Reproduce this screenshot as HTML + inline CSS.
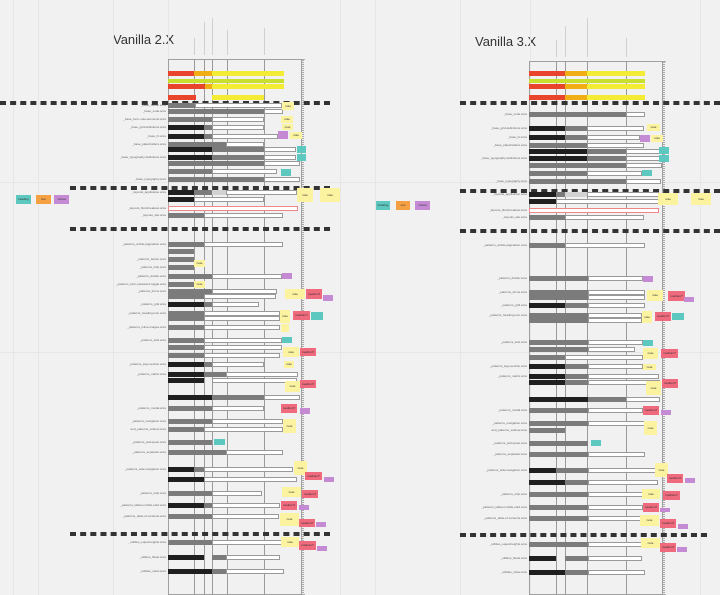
<!DOCTYPE html>
<html><head><meta charset="utf-8">
<style>
html,body{margin:0;padding:0;background:#f1f1f1;}
#wrap{position:relative;width:720px;height:595px;overflow:hidden;background:#f1f1f1;font-family:"Liberation Sans",sans-serif;}
.a{position:absolute;box-sizing:border-box;}
.t{position:absolute;font-size:3px;color:#666;white-space:nowrap;line-height:4px;}
.title{position:absolute;font-size:13px;color:#333;font-family:"Liberation Sans",sans-serif;}
</style></head>
<body>
<div id="wrap">
<div class="title" style="left:113px;top:32px">Vanilla 2.X</div>
<div class="title" style="left:475px;top:34px">Vanilla 3.X</div>
</div>
<script>
const W=document.getElementById('wrap');
const COL={k:'#1f1f1f',g:'#7b7b7b',l:'#d2d2d2',w:'#ffffff',p:'#ffffff',r:'#e8452c',o:'#f0ad14',y:'#f4ec34',n:'#c9df2e'};
const ST={S:'#fbf3a0',R:'#ee6a7c',P:'#c48ad4',T:'#5cc8c0',O:'#f5a043'};
function box(x,y,w,h,bg,name,border){
  const d=document.createElement('div');d.className='a';
  d.style.cssText=`left:${x}px;top:${y}px;width:${w}px;height:${h}px;background:${bg};`+(border?`border:${border};`:'');
  
  
  W.appendChild(d);return d;
}
function txt(x,y,s,name,align){
  const d=document.createElement('div');d.className='t';d.textContent=s;
  if(align==='r'){d.style.right=(720-x)+'px';}else{d.style.left=x+'px';}
  d.style.top=y+'px';
  
  
  W.appendChild(d);
}
const gridX=[13,38,113,168,340,375,460,530,700];
gridX.forEach(x=>box(x,0,1,595,'#e6e6e6','grid-line'));
[182,352,620].forEach(y=>box(0,y,720,1,'#e6e6e6','grid-line'));

const panels=[
 {frame:[168,59,302],cols:[194,204,212,227,264],heads:[38,22,18,30,28],dashes:[[0,101,330],[70,186,330],[70,227,330],[70,532,330]]},
 {frame:[529,61,663],cols:[556,565,587,626],heads:[40,26,18,38],dashes:[[460,101,720],[460,189,720],[460,229,720],[460,533,707]]}
];
panels.forEach((p,pi)=>{
  const [x1,y1,x2]=p.frame;
  box(x1,y1,x2-x1,595-y1,'transparent','swimlane-frame','1px solid #a0a0a0');
  box(x2,y1,1,595-y1,'transparent','swimlane-right-edge','1px dotted #aaa');
  p.cols.forEach((c,i)=>{box(c,y1,1,595-y1,'#9a9a9a','column-line');
    box(c,p.heads[i],1,y1-4-p.heads[i],'#d0d0d0','column-header-label');});
  p.dashes.forEach(d=>box(d[0],d[1],d[2]-d[0],0,'transparent','section-divider','2px dashed #333'));
});

const rowsL=[
 [71,[[168,194,'r'],[194,212,'o'],[212,284,'y']],'',5],
 [79,[[168,284,'n']],'',4],
 [84,[[168,205,'r'],[205,212,'o'],[212,284,'y']],'',5],
 [95,[[168,196,'r'],[212,264,'y']],'',5],
 [103,[[168,195,'g'],[195,282,'w']],'_base_button.scss'],
 [109,[[168,264,'g'],[264,283,'w']],'_base_code.scss'],
 [117,[[168,212,'g'],[212,264,'w']],'_base_form-note-elements.scss'],
 [125,[[168,204,'k'],[204,212,'g'],[212,264,'w']],'_base_grid-definitions.scss'],
 [134,[[168,204,'k'],[204,212,'g'],[212,278,'w']],'_base_hr.scss'],
 [142,[[168,226,'g'],[226,264,'w']],'_base_placeholders.scss'],
 [147,[[168,212,'k'],[212,264,'g'],[264,296,'w']],''],
 [155,[[168,212,'k'],[212,264,'g'],[264,296,'w']],'_base_typography-definitions.scss'],
 [161,[[168,264,'g'],[264,300,'w']],''],
 [169,[[168,212,'g'],[212,277,'w']],''],
 [177,[[168,264,'g'],[264,300,'w']],'_base_typography.scss'],
 [190,[[168,194,'k'],[194,212,'g'],[212,226,'l'],[226,297,'w']],'_layouts_application.scss'],
 [197,[[168,194,'k'],[194,264,'w']],''],
 [206,[[168,298,'p']],'_layouts_fluid-breakout.scss'],
 [213,[[168,204,'g'],[204,283,'w']],'_layouts_site.scss'],
 [242,[[168,204,'g'],[204,283,'w']],'_patterns_article-pagination.scss'],
 [249,[[168,194,'g']],''],
 [257,[[168,194,'g']],'_patterns_button.scss'],
 [265,[[168,194,'g']],'_patterns_chip.scss'],
 [274,[[168,212,'g'],[212,282,'w']],'_patterns_divider.scss'],
 [282,[[168,194,'g']],'_patterns_form-password-toggle.scss'],
 [289,[[168,212,'g'],[212,277,'w']],'_patterns_forms.scss'],
 [294,[[168,204,'g'],[204,276,'w']],''],
 [302,[[168,204,'k'],[204,212,'g'],[212,259,'w']],'_patterns_grid.scss'],
 [311,[[168,204,'g'],[204,280,'w']],'_patterns_heading-icon.scss'],
 [316,[[168,204,'g'],[204,280,'w']],''],
 [325,[[168,204,'g'],[204,280,'w']],'_patterns_inline-images.scss'],
 [338,[[168,204,'g'],[204,282,'w']],'_patterns_lists.scss'],
 [345,[[168,204,'g'],[204,282,'w']],''],
 [353,[[168,204,'g'],[204,280,'w']],''],
 [362,[[168,204,'k'],[204,212,'g'],[212,264,'w']],'_patterns_logo-section.scss'],
 [372,[[168,204,'k'],[204,226,'g'],[226,298,'w']],'_patterns_matrix.scss'],
 [378,[[168,204,'k'],[212,297,'w']],''],
 [395,[[168,212,'k'],[212,264,'g'],[264,300,'w']],''],
 [406,[[168,212,'g'],[212,264,'w']],'_patterns_modal.scss'],
 [419,[[168,212,'g'],[212,283,'w']],'_patterns_navigation.scss'],
 [427,[[168,204,'g'],[204,283,'w']],'and_patterns_subnav.scss'],
 [440,[[168,212,'g']],'_patterns_pull-quote.scss'],
 [450,[[168,226,'g'],[226,283,'w']],'_patterns_separator.scss'],
 [467,[[168,194,'k'],[194,204,'g'],[204,293,'w']],'_patterns_side-navigation.scss'],
 [477,[[168,204,'k'],[204,297,'w']],''],
 [491,[[168,212,'g'],[212,262,'w']],'_patterns_strip.scss'],
 [503,[[168,204,'k'],[204,212,'g'],[212,280,'w']],'_patterns_tables-mobile-card.scss'],
 [514,[[168,212,'g'],[212,279,'w']],'_patterns_table-of-contents.scss'],
 [540,[[168,212,'g'],[212,282,'w']],'_utilities_equal-heights.scss'],
 [555,[[168,204,'k'],[212,226,'g'],[226,280,'w']],'_utilities_floats.scss'],
 [569,[[168,212,'k'],[212,226,'g'],[226,284,'w']],'_utilities_show.scss']
];
const rowsR=[
 [71,[[529,565,'r'],[565,587,'o'],[587,645,'y']],'',5],
 [79,[[529,645,'n']],'',4],
 [84,[[529,565,'r'],[565,587,'o'],[587,645,'y']],'',5],
 [95,[[529,565,'r'],[565,587,'o'],[587,645,'y']],'',5],
 [112,[[529,626,'g'],[626,645,'w']],'_base_code.scss'],
 [126,[[529,565,'k'],[565,587,'g'],[587,644,'w']],'_base_grid-definitions.scss'],
 [135,[[529,565,'k'],[565,587,'g'],[587,640,'w']],'_base_hr.scss'],
 [143,[[529,587,'g'],[587,644,'w']],'_base_placeholders.scss'],
 [149,[[529,587,'k'],[587,626,'g'],[626,660,'w']],''],
 [156,[[529,587,'k'],[587,626,'g'],[626,660,'w']],'_base_typography-definitions.scss'],
 [163,[[529,626,'g'],[626,662,'w']],''],
 [171,[[529,587,'g'],[587,642,'w']],''],
 [179,[[529,626,'g'],[626,661,'w']],'_base_typography.scss'],
 [192,[[529,556,'k'],[556,565,'g'],[565,587,'l'],[587,659,'w']],'_layouts_application.scss'],
 [199,[[529,556,'k'],[556,659,'w']],''],
 [208,[[529,659,'p']],'_layouts_fluid-breakout.scss'],
 [215,[[529,565,'g'],[565,644,'w']],'_layouts_site.scss'],
 [243,[[529,565,'g'],[565,645,'w']],'_patterns_article-pagination.scss'],
 [276,[[529,588,'g'],[588,643,'w']],'_patterns_divider.scss'],
 [290,[[529,588,'g'],[588,645,'w']],'_patterns_forms.scss'],
 [295,[[529,588,'g'],[588,645,'w']],''],
 [303,[[529,565,'k'],[565,588,'g'],[588,645,'w']],'_patterns_grid.scss'],
 [313,[[529,588,'g'],[588,642,'w']],'_patterns_heading-icon.scss'],
 [318,[[529,588,'g'],[588,642,'w']],''],
 [340,[[529,588,'g'],[588,643,'w']],'_patterns_lists.scss'],
 [347,[[529,588,'g'],[588,635,'w']],''],
 [355,[[529,565,'g'],[565,643,'w']],''],
 [364,[[529,565,'k'],[565,588,'g'],[588,643,'w']],'_patterns_logo-section.scss'],
 [374,[[529,565,'k'],[565,588,'g'],[588,659,'w']],'_patterns_matrix.scss'],
 [380,[[529,565,'k'],[565,588,'g'],[588,660,'w']],''],
 [397,[[529,588,'k'],[588,626,'g'],[626,660,'w']],''],
 [408,[[529,588,'g'],[588,643,'w']],'_patterns_modal.scss'],
 [421,[[529,588,'g'],[588,645,'w']],'_patterns_navigation.scss'],
 [428,[[529,565,'g']],'and_patterns_subnav.scss'],
 [441,[[529,588,'g']],'_patterns_pull-quote.scss'],
 [452,[[529,588,'g'],[588,645,'w']],'_patterns_separator.scss'],
 [468,[[529,556,'k'],[556,588,'g'],[588,658,'w']],'_patterns_side-navigation.scss'],
 [480,[[529,565,'k'],[565,588,'g'],[588,658,'w']],''],
 [492,[[529,588,'g'],[588,643,'w']],'_patterns_strip.scss'],
 [505,[[529,588,'g'],[588,643,'w']],'_patterns_tables-mobile-card.scss'],
 [516,[[529,588,'g'],[588,643,'w']],'_patterns_table-of-contents.scss'],
 [542,[[529,588,'g'],[588,645,'w']],'_utilities_equal-heights.scss'],
 [556,[[529,556,'k'],[565,588,'g'],[588,642,'w']],'_utilities_floats.scss'],
 [570,[[529,565,'k'],[565,588,'g'],[588,645,'w']],'_utilities_show.scss']
];
const stickies=[
 [16,195,15,9,'T','heading'],[36,195,15,9,'O','sun'],[54,195,15,9,'P','virtual'],
 [376,201,14,9,'T','heading'],[396,201,14,9,'O','sun'],[415,201,15,9,'P','virtual'],
 [282,102,12,8,'S','note'],[281,116,12,7,'S','note'],[282,124,11,6,'S','note'],[278,131,10,8,'P',''],[290,132,12,7,'S','note'],
 [297,146,9,7,'T',''],[297,154,9,7,'T',''],[281,169,10,7,'T',''],
 [297,188,16,14,'S','note'],[320,188,20,14,'S','note'],
 [194,260,11,7,'S','note'],[282,273,10,6,'P',''],[194,281,11,7,'S','note'],
 [285,289,20,10,'S','note'],[306,289,16,10,'R','medium?'],[323,295,10,6,'P',''],
 [280,310,10,13,'S','note'],[293,311,17,9,'R','medium?'],[311,312,12,8,'T',''],[281,324,8,8,'S',''],
 [282,337,10,6,'T',''],[283,347,16,10,'S','note'],[300,348,16,8,'R','medium?'],
 [284,361,10,7,'S','note'],[285,381,15,11,'S','note'],[300,380,16,8,'R','medium?'],
 [281,404,16,9,'R','medium?'],[300,408,10,6,'P',''],[283,419,13,14,'S','note'],[214,439,11,6,'T',''],
 [294,461,13,14,'S','note'],[305,472,17,8,'R','medium?'],[324,477,10,5,'P',''],
 [282,487,19,10,'S','note'],[302,490,16,8,'R','medium?'],[281,501,16,9,'R','medium?'],[299,505,10,5,'P',''],
 [280,513,19,13,'S','note'],[299,519,16,8,'R','medium?'],[316,522,10,5,'P',''],
 [281,537,18,10,'S','note'],[299,541,17,9,'R','medium?'],[317,546,10,5,'P',''],
 [647,124,13,7,'S','note'],[640,135,10,7,'P',''],[651,135,12,7,'S','note'],[659,147,10,7,'T',''],[659,155,10,7,'T',''],[642,170,10,6,'T',''],
 [658,193,20,12,'S','note'],[691,193,20,12,'S','note'],
 [643,276,10,6,'P',''],[647,290,16,11,'S','note'],[668,291,17,10,'R','medium?'],[684,297,10,5,'P',''],
 [642,311,10,12,'S','note'],[655,312,16,9,'R','medium?'],[672,313,12,7,'T',''],
 [643,340,10,6,'T',''],[643,348,15,11,'S','note'],[661,349,17,9,'R','medium?'],[643,364,13,6,'S','note'],
 [646,381,15,14,'S','note'],[662,379,16,9,'R','medium?'],[643,406,16,9,'R','medium?'],[661,410,10,5,'P',''],
 [644,421,13,14,'S','note'],[591,440,10,6,'T',''],
 [655,463,13,14,'S','note'],[667,474,16,9,'R','medium?'],[685,478,10,5,'P',''],
 [642,489,18,10,'S','note'],[663,491,17,9,'R','medium?'],[643,503,16,9,'R','medium?'],[660,508,10,4,'P',''],
 [640,515,19,11,'S','note'],[660,519,16,9,'R','medium?'],[678,524,10,5,'P',''],
 [641,538,19,10,'S','note'],[660,543,16,9,'R','medium?'],[677,547,10,5,'P','']
];
function drawRows(rows,lx,pre){
  rows.forEach(r=>{
    const [y,segs,label,h]=r;const hh=h||5;
    segs.forEach(s=>{
      const t=s[2];
      const border=(t==='w')?'0.5px solid #999':(t==='p')?'0.5px solid #e88':null;
      box(s[0],y,s[1]-s[0],hh,COL[t],pre+'-bar-'+t,border);
    });
    if(label) txt(lx,y,label,pre+'-row-label','r');
  });
}
drawRows(rowsL,166,'v2');
drawRows(rowsR,527,'v3');
stickies.forEach(s=>{
  const d=box(s[0],s[1],s[2],s[3],ST[s[4]],'sticky-note');
  if(s[5]){d.style.fontSize='3px';d.style.color='#333';d.style.textAlign='center';d.style.lineHeight=s[3]+'px';d.style.overflow='hidden';d.textContent=s[5];}
});
</script>
</body></html>
